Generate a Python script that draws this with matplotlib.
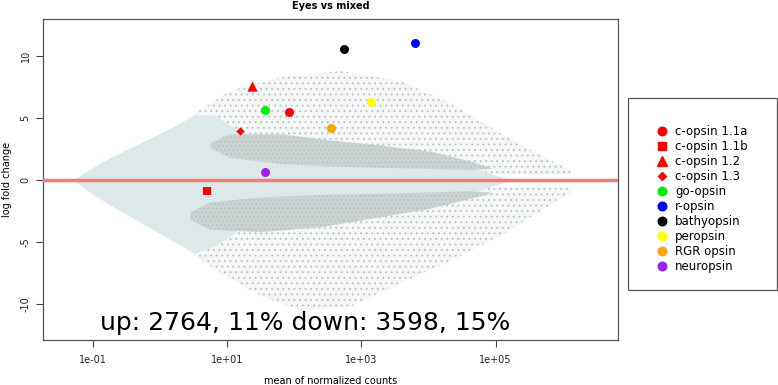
import numpy as np
import matplotlib
matplotlib.use("Agg")
import matplotlib.pyplot as plt
from matplotlib.patches import Rectangle
from matplotlib.lines import Line2D

plt.rcParams['font.family'] = ['DejaVu Sans']
plt.rcParams['axes.unicode_minus'] = False
plt.rcParams['hatch.linewidth'] = 0.7

# --- highlighted opsin genes: mean of normalized counts, log fold change
genes = ['c-opsin 1.1a', 'c-opsin 1.1b', 'c-opsin 1.2', 'c-opsin 1.3', 'go-opsin',
         'r-opsin', 'bathyopsin', 'peropsin', 'RGR opsin', 'neuropsin']
gene_mean = [84, 5.0, 23, 15.6, 37, 6200, 557, 1410, 357, 37]
gene_lfc = [5.5, -0.85, 7.6, 4.0, 5.65, 11.1, 10.55, 6.3, 4.2, 0.65]
gene_color = ['#ff0000', '#ff0000', '#ff0000', '#ff0000', '#00ee00',
              '#0000ff', '#000000', '#ffff00', '#ffa500', '#a020f0']
gene_marker = ['o', 's', '^', 'D', 'o', 'o', 'o', 'o', 'o', 'o']
gene_size = [42, 38, 55, 18, 42, 42, 42, 42, 42, 42]

# --- background cloud, read off as envelopes (log10 of mean counts)
# non-significant genes (light cyan)
ns_logx = [-1.30, -1.04, -0.75, -0.30, 0.15, 0.52, 0.82, 1.19, 2.09, 3.28, 4.18, 4.78, 5.22]
ns_hi = [0.0, 0.9, 1.8, 3.0, 4.2, 5.3, 5.2, 3.9, 2.6, 1.8, 1.2, 0.8, 0.0]
ns_lo = [0.0, -1.0, -2.0, -3.4, -4.8, -5.9, -5.3, -3.9, -2.6, -1.8, -1.2, -0.8, 0.0]

# significant up, sparse envelope
up_logx = [0.30, 0.52, 1.04, 1.79, 2.69, 3.58, 4.33, 5.07, 5.67, 6.12]
up_lo = [3.0, 1.8, 1.0, 0.9, 0.8, 0.8, 0.6, 0.5, 0.4, 0.5]
up_hi = [3.5, 5.4, 7.2, 8.3, 8.8, 8.0, 6.2, 3.8, 2.0, 0.8]
# significant up, dense band
upd_logx = [0.75, 1.04, 1.79, 2.54, 3.28, 4.03, 4.63, 4.93]
upd_lo = [2.6, 1.8, 1.3, 1.1, 1.0, 0.9, 0.8, 0.9]
upd_hi = [3.0, 3.7, 3.7, 3.2, 2.8, 2.3, 1.5, 1.0]

# significant down, sparse envelope
dn_logx = [0.15, 0.37, 0.90, 1.49, 2.09, 2.84, 3.58, 4.33, 5.07, 5.67, 6.12]
dn_hi = [-3.5, -2.2, -1.5, -1.2, -1.0, -1.0, -0.9, -0.8, -0.6, -0.5, -0.6]
dn_lo = [-4.0, -5.5, -7.5, -9.3, -10.5, -10.2, -8.3, -6.5, -4.5, -2.5, -1.0]
# significant down, dense band
dnd_logx = [0.45, 0.75, 1.49, 2.39, 3.28, 4.03, 4.63, 4.93]
dnd_hi = [-2.6, -1.8, -1.4, -1.2, -1.1, -1.0, -0.9, -1.0]
dnd_lo = [-3.2, -4.0, -4.2, -3.8, -3.0, -2.3, -1.5, -1.1]

ticks_x = [1e-1, 1e1, 1e3, 1e5]
ticks_x_lab = ['1e-01', '1e+01', '1e+03', '1e+05']
ticks_y = [-10, -5, 0, 5, 10]

fig = plt.figure(figsize=(7.78, 3.85), dpi=100)
ax = fig.add_axes([0.0553, 0.1169, 0.7387, 0.8337])

cyan = '#dde8e8'

# sparse significant genes: dotted texture
for lx, lo, hi in [(up_logx, up_lo, up_hi), (dn_logx, dn_lo, dn_hi)]:
    ax.fill_between(10 ** np.array(lx), lo, hi, facecolor='#f5f7f7',
                    edgecolor='#bcc5c5', hatch='...', lw=0, zorder=1)
ax.fill_between(10 ** np.array(ns_logx), ns_lo, ns_hi, color=cyan, lw=0, zorder=2)
for lx, lo, hi in [(upd_logx, upd_lo, upd_hi), (dnd_logx, dnd_lo, dnd_hi)]:
    ax.fill_between(10 ** np.array(lx), lo, hi, facecolor='#ccd3d3',
                    edgecolor='#b9c2c2', hatch='....', lw=0, zorder=3)

ax.axhline(0, color='#ee7c7c', lw=2.5, zorder=4)

for m, l, c, mk, s in zip(gene_mean, gene_lfc, gene_color, gene_marker, gene_size):
    ax.scatter(m, l, s=s, c=c, marker=mk, linewidths=0, zorder=5)

ax.text(0.127, -11.5, 'up: 2764, 11% down: 3598, 15%', fontsize=18,
        va='center', ha='left', zorder=6)

ax.set_xscale('log')
ax.set_xlim(10 ** -1.746, 10 ** 6.82)
ax.set_ylim(-12.9, 13.0)
ax.set_xticks(ticks_x)
ax.set_xticklabels(ticks_x_lab)
ax.minorticks_off()
ax.set_yticks(ticks_y)
ax.set_yticklabels([str(t) for t in ticks_y], rotation=90, va='center')
ax.tick_params(axis='both', labelsize=7, length=5, width=0.8, color='#444444',
               labelcolor='#222222')
ax.tick_params(axis='x', pad=6)
ax.tick_params(axis='y', pad=4)
for sp in ax.spines.values():
    sp.set_color('#555555')
    sp.set_linewidth(0.9)

ax.set_title('Eyes vs mixed', fontsize=7, fontweight='bold', pad=7)
ax.set_xlabel('mean of normalized counts', fontsize=7, labelpad=8)
ax.set_ylabel('log fold change', fontsize=7, labelpad=6)

# legend in its own box to the right
fig.patches.append(Rectangle((628 / 778, 1 - 290 / 385), 149 / 778, 192 / 385,
                             transform=fig.transFigure, fill=False,
                             edgecolor='#555555', lw=0.9))
handles = [Line2D([], [], ls='none', marker=mk, color=c, markersize=np.sqrt(s) * 0.95)
           for mk, c, s in zip(gene_marker, gene_color, gene_size)]
fig.legend(handles, genes, loc='upper left', bbox_to_anchor=(0.8373, 0.6875),
           borderaxespad=0, frameon=False, fontsize=8.5, handletextpad=0.6,
           labelspacing=0.17, handlelength=1.0)

fig.savefig('out.png', dpi=100)
